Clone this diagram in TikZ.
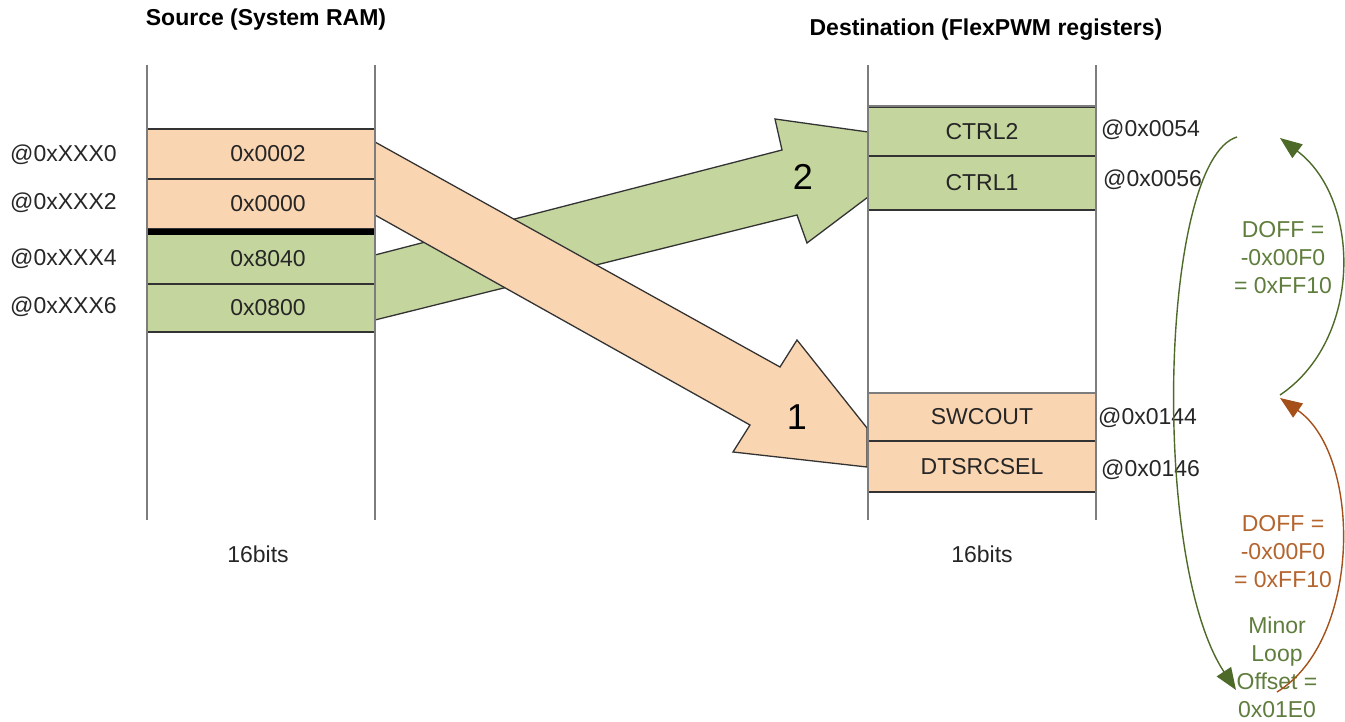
\documentclass[tikz,border=0pt]{standalone}
\usepackage{fontspec}
\setmainfont{Liberation Sans}
\usetikzlibrary{arrows.meta}
\definecolor{cellor}{RGB}{250,213,178}
\definecolor{cellgr}{RGB}{196,214,158}
\definecolor{colgray}{RGB}{125,125,125}
\definecolor{gtext}{RGB}{95,125,60}
\definecolor{gcurve}{RGB}{78,106,40}
\definecolor{otext}{RGB}{180,100,45}
\definecolor{ocurve}{RGB}{165,80,25}
\begin{document}
\begin{tikzpicture}[x=1pt,y=-1pt,
  txt/.style={font=\fontsize{23}{28}\selectfont, inner sep=0pt, text=black!85},
  title/.style={font=\fontsize{23}{28}\selectfont\bfseries, inner sep=0pt},
  cell/.style={draw=black!80, line width=1.3pt, minimum width=228pt, inner sep=0pt,
    font=\fontsize{23}{28}\selectfont, text=black!85},
  orcell/.style={cell, fill=cellor},
  grcell/.style={cell, fill=cellgr},
  column/.style={draw=colgray, line width=2.2pt},
  blockarrow/.style={draw=black!80, line width=1.3pt},
  bignum/.style={font=\fontsize{36}{40}\selectfont, inner sep=0pt},
  curve/.style={line width=1.4pt},
  gnote/.style={font=\fontsize{23}{28}\selectfont, align=center, inner sep=0pt, text=gtext},
  onote/.style={font=\fontsize{23}{28}\selectfont, align=center, inner sep=0pt, text=otext}
]
\useasboundingbox (0,0) rectangle (1345,722);

% titles
\node[title] (srct) at (266,20) {Source (System RAM)};
\node[title] (dstt) at (986,30) {Destination (FlexPWM registers)};

% source cells
\node[orcell, minimum height=50pt, label={[txt, xshift=7pt]center:0x0002}] (s0) at (261,154) {};
\node[orcell, minimum height=50pt, label={[txt, xshift=7pt]center:0x0000}] (s1) at (261,204) {};
\node[grcell, minimum height=50pt, label={[txt, xshift=7pt]center:0x8040}] (s2) at (261,259) {};
\node[grcell, minimum height=48pt, label={[txt, xshift=7pt]center:0x0800}] (s3) at (261,308) {};
\draw[line width=6.5pt] (s1.south west) ++(0,2.5) -- ++(228,0);

% destination cells
\node[grcell, minimum height=49pt] (d0) at (982,131.5) {CTRL2};
\node[grcell, minimum height=54pt] (d1) at (982,183) {CTRL1};
\node[orcell, minimum height=48pt] (d2) at (982,417) {SWCOUT};
\node[orcell, minimum height=51pt] (d3) at (982,466.5) {DTSRCSEL};
\draw[colgray, line width=2pt] (868,106) -- (1096,106);
\draw[colgray, line width=2pt] (868,393) -- (1096,393);

% block arrows
\draw[blockarrow, fill=cellgr] (375,255) -- (782,150) -- (775,119) -- (868,132) -- (868,197)
  -- (807,243) -- (797,215) -- (375,320) -- cycle;
\draw[blockarrow, fill=cellor] (375,142) -- (780,367) -- (797,340) -- (867,428) -- (867,467)
  -- (733,452) -- (750,425) -- (375,215) -- cycle;
\node[bignum] (n2) at (803,177) {2};
\node[bignum] (n1) at (797,417) {1};

% columns
\draw[column] (147,65) -- (147,520);
\draw[column] (375,65) -- (375,520);
\draw[column] (868,65) -- (868,520);
\draw[column] (1096,65) -- (1096,520);

% address labels
\node[txt, anchor=west] (a0) at (10,155) {@0xXXX0};
\node[txt, anchor=west] (a1) at (10,203) {@0xXXX2};
\node[txt, anchor=west] (a2) at (10,259) {@0xXXX4};
\node[txt, anchor=west] (a3) at (10,307) {@0xXXX6};
\node[txt, anchor=west] (b0) at (1101,130) {@0x0054};
\node[txt, anchor=west] (b1) at (1103,180) {@0x0056};
\node[txt, anchor=west] (b2) at (1098,418) {@0x0144};
\node[txt, anchor=west] (b3) at (1101,470) {@0x0146};

% bit width labels
\node[txt] (w0) at (258,554) {16bits};
\node[txt] (w1) at (982,554) {16bits};

% offset notes
\node[gnote] (gdoff) at (1283,258) {DOFF =\\-0x00F0\\= 0xFF10};
\node[onote] (odoff) at (1283,552) {DOFF =\\-0x00F0\\= 0xFF10};
\node[gnote] (minor) at (1277,667) {Minor\\Loop\\Offset =\\0x01E0};

% curved arrows
\coordinate (gA) at (1237,137);
\coordinate (gB) at (1236,690);
\coordinate (hA) at (1280,395);
\coordinate (hB) at (1280,138);
\coordinate (oA) at (1277,692);
\coordinate (oB) at (1280,398);
\draw[curve, gcurve, -{Triangle[length=22pt,width=17pt]}] (gA) .. controls (1160,160) and (1150,560) .. (gB);
\draw[curve, gcurve, -{Triangle[length=22pt,width=17pt]}] (hA) .. controls (1362,340) and (1362,200) .. (hB);
\draw[curve, ocurve, -{Triangle[length=22pt,width=17pt]}] (oA) .. controls (1362,640) and (1362,455) .. (oB);
\end{tikzpicture}
\end{document}
